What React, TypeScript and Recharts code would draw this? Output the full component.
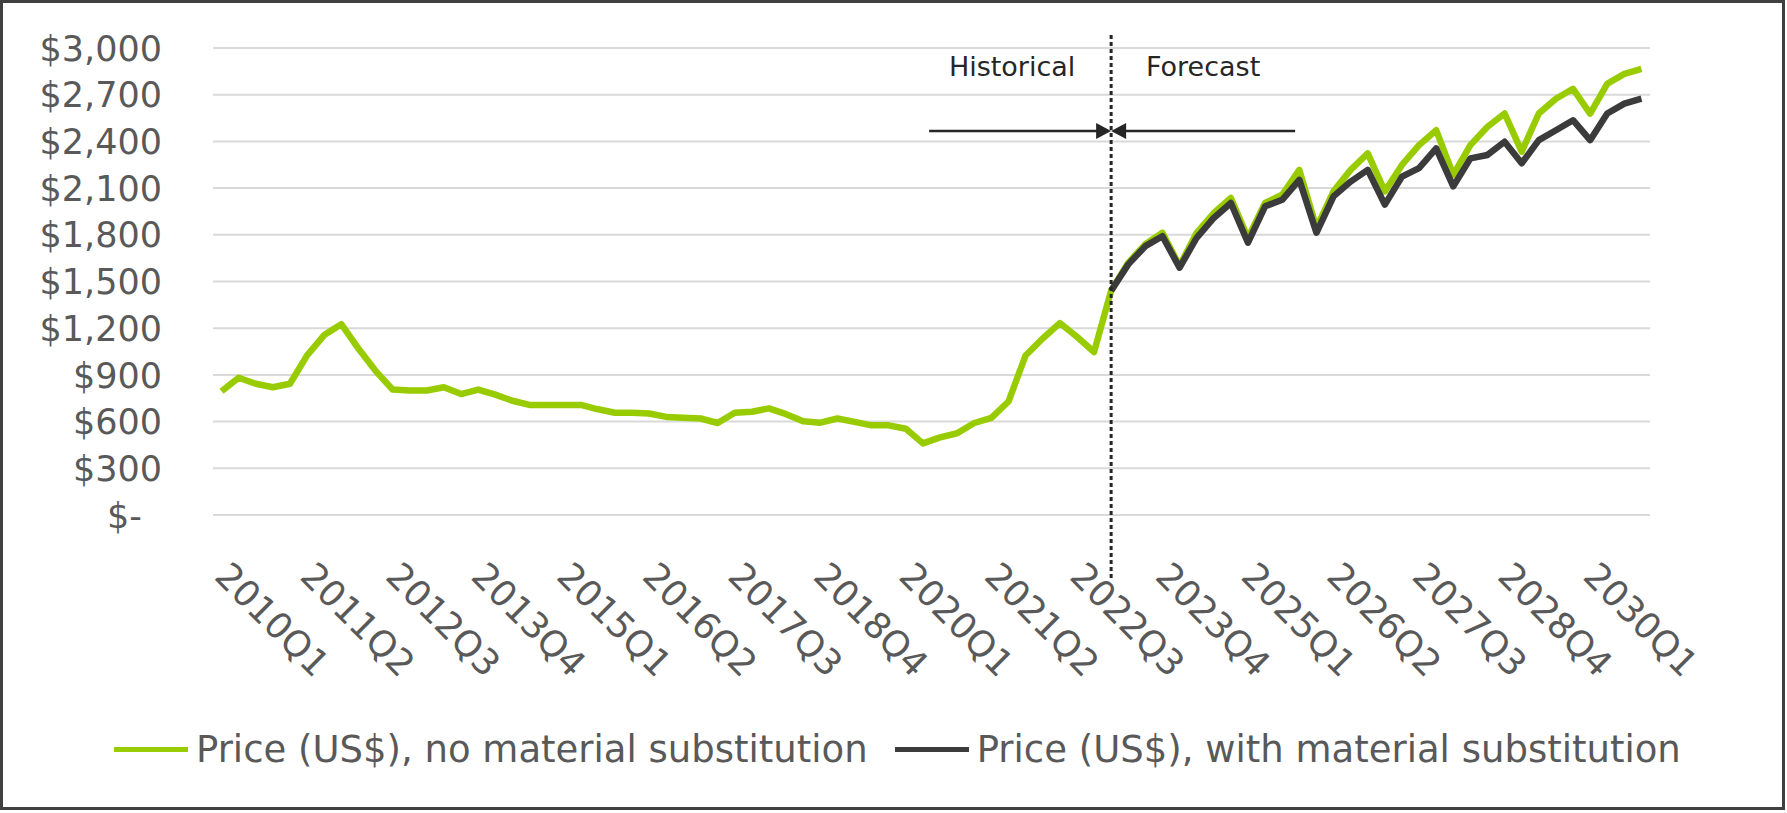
import { LineChart, Line, XAxis, YAxis, CartesianGrid, ReferenceLine } from 'recharts';

// quarterly categories 2010Q1 .. 2030Q4
const firstYear = 2010;
const lastYear = 2030;
const quarters: string[] = [];
for (let y = firstYear; y <= lastYear; y++) {
  for (let q = 1; q <= 4; q++) quarters.push(`${y}Q${q}`);
}

// US$ price, no material substitution (historical + forecast)
const priceNoSubstitution = [
  795, 882, 843, 821, 843, 1025, 1156, 1226, 1069, 926,
  806, 800, 800, 821, 777, 806, 773, 734, 707, 707,
  707, 707, 679, 657, 657, 652, 630, 624, 620, 591,
  657, 663, 685, 648, 602, 593, 620, 598, 576, 576,
  554, 460, 499, 525, 591, 624, 729, 1025, 1134, 1233,
  1145, 1047, 1441, 1620, 1740, 1813, 1600, 1813, 1940, 2036,
  1780, 2004, 2057, 2217, 1845, 2079, 2217, 2323, 2079, 2249,
  2376, 2472, 2185, 2376, 2494, 2579, 2334, 2579, 2674, 2738,
  2579, 2770, 2834, 2866,
];

// US$ price, with material substitution (forecast only)
const forecastStart = '2023Q1';
const priceWithSubstitution = [
  1441, 1610, 1727, 1791, 1589, 1781, 1908, 2004, 1749, 1983,
  2025, 2153, 1813, 2047, 2142, 2217, 1994, 2174, 2228, 2355,
  2111, 2291, 2313, 2398, 2260, 2408, 2472, 2536, 2408, 2579,
  2643, 2674,
];

const yTicks = [0, 300, 600, 900, 1200, 1500, 1800, 2100, 2400, 2700, 3000];

const GREEN = '#99cc00';
const DARK = '#3b3b3b';
const TEXT = '#595959';
const FONT = '"DejaVu Sans", sans-serif';

const startIdx = quarters.indexOf(forecastStart);
const rows = quarters.map((q, i) => ({
  q,
  noSub: priceNoSubstitution[i],
  withSub: i >= startIdx ? priceWithSubstitution[i - startIdx] : null,
}));

const fmtDollar = (v: number) => (v === 0 ? '$-' : `$${v.toLocaleString('en-US')}`);

const DollarTick = ({ x, y, payload }: any) => (
  <text
    x={payload.value === 0 ? x - 20 : x}
    y={y}
    dy="0.36em"
    textAnchor="end"
    fill={TEXT}
    fontSize={35}
    fontFamily={FONT}
  >
    {fmtDollar(payload.value)}
  </text>
);

const QuarterTick = ({ x, y, payload }: any) => {
  const ax = x - 8.6;
  const ay = y + 63;
  return (
    <text
      x={ax}
      y={ay}
      transform={`rotate(45 ${ax} ${ay})`}
      fill={TEXT}
      fontSize={36}
      fontFamily={FONT}
    >
      {payload.value}
    </text>
  );
};

// dashed divider between history and forecast, with its labels and arrows
const Divider = (props: any) => {
  const { x1 } = props;
  const top = Math.min(props.y1, props.y2);
  const bottom = Math.max(props.y1, props.y2);
  const ay = top + 83;
  const ink = '#262626';
  return (
    <g>
      <line x1={x1} x2={x1} y1={top - 13} y2={bottom + 63} stroke={ink} strokeWidth={3} strokeDasharray="4 3" />
      <text x={x1 - 99} y={top + 28} textAnchor="middle" fill={ink} fontSize={27} fontFamily={FONT}>
        Historical
      </text>
      <text x={x1 + 92} y={top + 28} textAnchor="middle" fill={ink} fontSize={27} fontFamily={FONT}>
        Forecast
      </text>
      <line x1={x1 - 182} x2={x1 - 10} y1={ay} y2={ay} stroke={ink} strokeWidth={2.5} />
      <polygon points={`${x1},${ay} ${x1 - 15},${ay - 8} ${x1 - 15},${ay + 8}`} fill={ink} />
      <line x1={x1 + 10} x2={x1 + 184} y1={ay} y2={ay} stroke={ink} strokeWidth={2.5} />
      <polygon points={`${x1},${ay} ${x1 + 15},${ay - 8} ${x1 + 15},${ay + 8}`} fill={ink} />
    </g>
  );
};

const legendItems = [
  { label: 'Price (US$), no material substitution', color: GREEN },
  { label: 'Price (US$), with material substitution', color: DARK },
];

export default function App() {
  return (
    <div style={{ position: 'absolute', left: 0, top: 0, width: 1787, height: 813, background: '#fff' }}>
      <div
        style={{
          position: 'absolute',
          left: 0,
          top: 0,
          width: 1785,
          height: 810,
          boxSizing: 'border-box',
          border: '3px solid #404040',
        }}
      />
      <div style={{ position: 'absolute', left: 0, top: 0 }}>
        <LineChart
          width={1787}
          height={813}
          data={rows}
          margin={{ top: 48, right: 137, bottom: 98, left: 0 }}
        >
          <CartesianGrid vertical={false} stroke="#d9d9d9" strokeWidth={2} />
          <XAxis
            dataKey="q"
            interval={4}
            height={200}
            axisLine={false}
            tickLine={false}
            tickSize={0}
            tickMargin={0}
            padding={{ left: 8.55, right: 8.55 }}
            tick={<QuarterTick />}
          />
          <YAxis
            domain={[0, 3000]}
            ticks={yTicks}
            width={213}
            axisLine={false}
            tickLine={false}
            tickSize={0}
            tickMargin={51}
            tick={<DollarTick />}
          />
          <Line
            dataKey="noSub"
            type="linear"
            stroke={GREEN}
            strokeWidth={6.5}
            strokeLinejoin="round"
            dot={false}
            isAnimationActive={false}
          />
          <Line
            dataKey="withSub"
            type="linear"
            stroke={DARK}
            strokeWidth={6.5}
            strokeLinejoin="round"
            dot={false}
            isAnimationActive={false}
          />
          <ReferenceLine x={forecastStart} shape={<Divider />} />
        </LineChart>
      </div>
      <div
        style={{
          position: 'absolute',
          left: 114,
          top: 728,
          height: 42,
          display: 'flex',
          alignItems: 'center',
          fontFamily: FONT,
          fontSize: 37,
          color: TEXT,
          whiteSpace: 'nowrap',
        }}
      >
        {legendItems.map((item, i) => (
          <div key={item.label} style={{ display: 'flex', alignItems: 'center', marginLeft: i === 0 ? 0 : 27 }}>
            <span style={{ display: 'inline-block', width: 74, height: 5, background: item.color, marginRight: 8 }} />
            <span>{item.label}</span>
          </div>
        ))}
      </div>
    </div>
  );
}
